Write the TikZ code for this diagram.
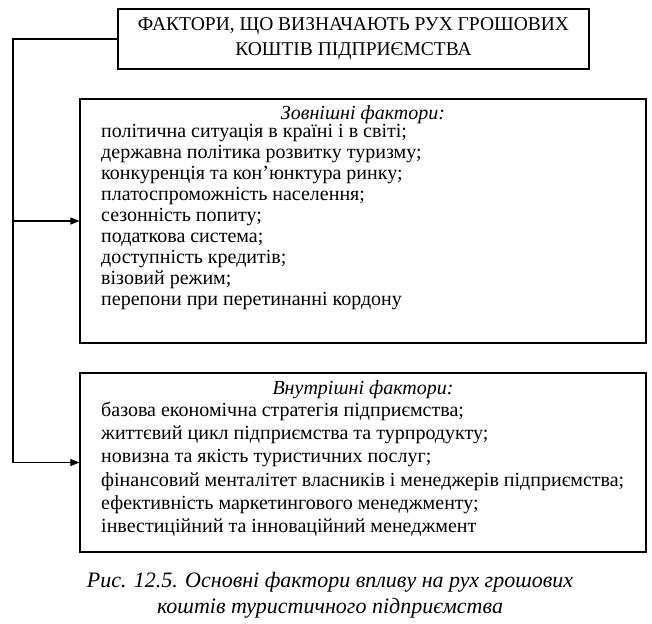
\documentclass[tikz,border=0pt]{standalone}
\usepackage{fontspec}
\setmainfont{Liberation Serif}
\usetikzlibrary{arrows.meta,positioning}

\begin{document}
\begin{tikzpicture}[x=1pt,y=-1pt,
  framebox/.style={draw, line width=1.1pt, inner sep=0pt},
  headtext/.style={anchor=base, inner sep=0pt, font=\fontsize{20}{21}\selectfont\itshape},
  listtext/.style={anchor=north west, align=left, inner sep=0pt},
  link/.style={line width=1.1pt},
  tip/.style={-{Triangle[length=9pt,width=7pt]}}]
  \useasboundingbox (0,0) rectangle (652,623);
  % title
  \node[framebox, minimum width=471pt, minimum height=60pt, align=center,
        font=\fontsize{19.5}{25}\selectfont] (title) at (353.5,39)
        {ФАКТОРИ, ЩО ВИЗНАЧАЮТЬ РУХ ГРОШОВИХ\\КОШТІВ ПІДПРИЄМСТВА};
  % the two groups of factors
  \node[framebox, minimum width=566pt, minimum height=244pt] (ext) at (363,221) {};
  \node[framebox, minimum width=566pt, minimum height=179pt] (int) at (363,462.5) {};
  \node[headtext] (exthead) at (363,119) {Зовнішні фактори:};
  \node[listtext, font=\fontsize{20}{21}\selectfont] (extlist) at (101,124)
    {політична ситуація в країні і в світі;\\
     державна політика розвитку туризму;\\
     конкуренція та кон’юнктура ринку;\\
     платоспроможність населення;\\
     сезонність попиту;\\
     податкова система;\\
     доступність кредитів;\\
     візовий режим;\\
     перепони при перетинанні кордону};
  \node[headtext] (inthead) at (363,394) {Внутрішні фактори:};
  \node[listtext, font=\fontsize{20}{23.2}\selectfont] (intlist) at (101,402)
    {базова економічна стратегія підприємства;\\
     життєвий цикл підприємства та турпродукту;\\
     новизна та якість туристичних послуг;\\
     фінансовий менталітет власників і менеджерів підприємства;\\
     ефективність маркетингового менеджменту;\\
     інвестиційний та інноваційний менеджмент};
  % connectors
  \coordinate (corner) at (13,39);
  \draw[link, tip] (title.west) -- (corner) |- (int.west);
  \draw[link, tip] (corner |- ext.west) -- (ext.west);
  % caption
  \node[align=center, inner sep=0pt, font=\fontsize{22}{26}\selectfont\itshape] (caption) at (330,595)
    {Рис. 12.5. Основні фактори впливу на рух грошових\\коштів туристичного підприємства};
\end{tikzpicture}
\end{document}
